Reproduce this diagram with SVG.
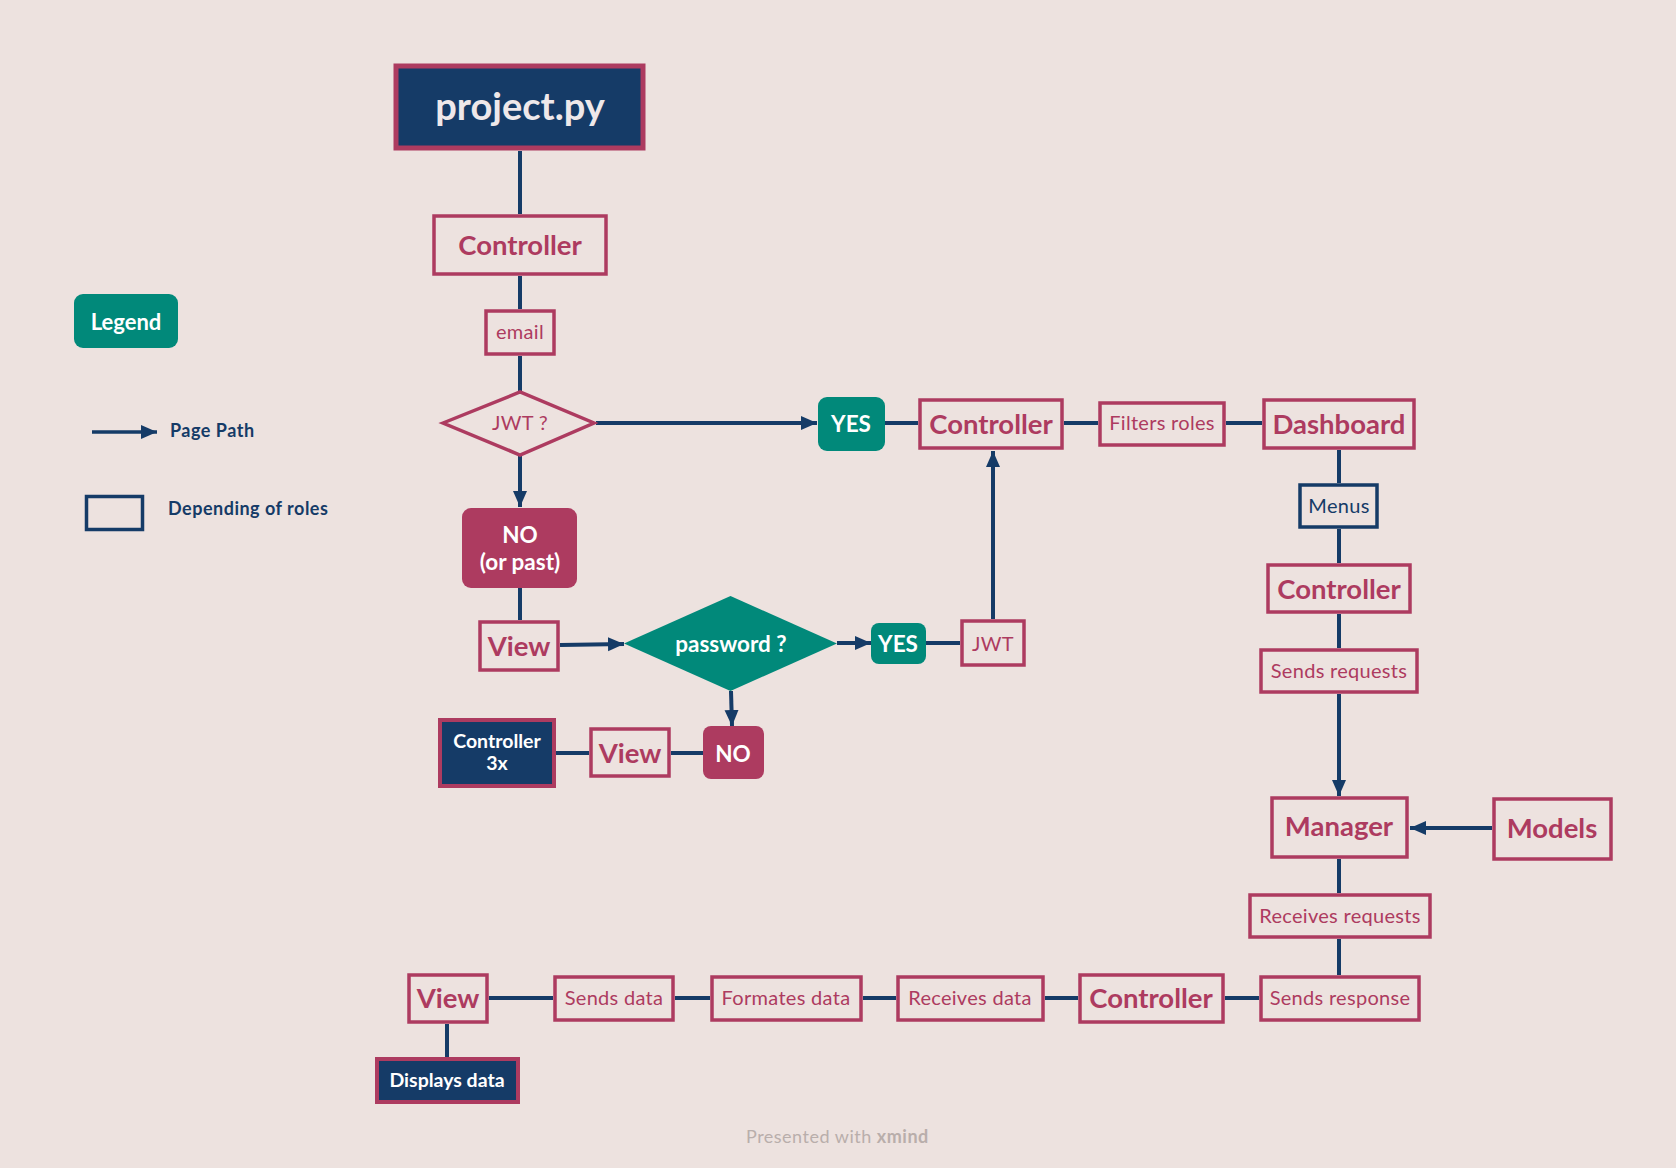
<svg xmlns="http://www.w3.org/2000/svg" width="1676" height="1168" viewBox="0 0 1676 1168">
<style>
.bx{fill:#EDE2DF;stroke:#AD3B60;stroke-width:3.5}
.nb{fill:#EDE2DF;stroke:#153B67;stroke-width:3.5}
.dk{fill:#153B67;stroke:#AD3B60;stroke-width:4}
.tl{fill:#01897A}
.pk{fill:#AD3B60}
.c{stroke:#153B67;stroke-width:4;fill:none}
.a{marker-end:url(#ah)}
text{font-family:Lato,"Liberation Sans",sans-serif;text-anchor:middle}
.tb{font-size:27.5px;font-weight:bold;fill:#AD3B60}
.ts{font-size:20px;letter-spacing:0.3px;fill:#AD3B60}
.tw{font-size:22.5px;font-weight:bold;fill:#fff}
.tn{font-size:18px;letter-spacing:0.5px;font-weight:bold;fill:#153B67;text-anchor:start}
</style>
<defs>
<marker id="ah" markerUnits="userSpaceOnUse" markerWidth="18" markerHeight="16" refX="16" refY="7" orient="auto"><path d="M0,0 L16,7 L0,14 z" fill="#153B67"/></marker>
</defs>
<rect width="1676" height="1168" fill="#EDE2DF"/>
<g id="connectors">
<path class="c" d="M520,151 V214"/>
<path class="c" d="M520,276 V309"/>
<path class="c" d="M520,356 V391"/>
<path class="c a" d="M596,423 H817"/>
<path class="c a" d="M520,456 V507"/>
<path class="c" d="M885,423 H918"/>
<path class="c" d="M1064,423 H1098"/>
<path class="c" d="M1226,423 H1262"/>
<path class="c" d="M1339,450 V483"/>
<path class="c" d="M1339,529 V563"/>
<path class="c" d="M1339,614 V648"/>
<path class="c a" d="M1339,694 V796"/>
<path class="c a" d="M1492,828 H1410"/>
<path class="c" d="M1339,859 V893"/>
<path class="c" d="M1339,939 V975"/>
<path class="c" d="M1259,998 H1225"/>
<path class="c" d="M1078,998 H1045"/>
<path class="c" d="M896,998 H863"/>
<path class="c" d="M710,998 H675"/>
<path class="c" d="M553,998 H489"/>
<path class="c" d="M447,1024 V1057"/>
<path class="c" d="M520,588 V620"/>
<path class="c a" d="M560,645 L624,644"/>
<path class="c a" d="M837,643 H871"/>
<path class="c" d="M926,643 H960"/>
<path class="c a" d="M993,619 V451"/>
<path class="c a" d="M731,691 L732,726"/>
<path class="c" d="M703,753 H671"/>
<path class="c" d="M589,753 H556"/>
</g>
<g id="legend">
<rect class="tl" x="74" y="294" width="104" height="54" rx="9"/>
<text class="tw" x="126" y="330" style="font-size:22px">Legend</text>
<path class="c a" d="M92,432 H157" style="stroke-width:3.5"/>
<text class="tn" x="170" y="437">Page Path</text>
<rect class="nb" x="86.5" y="496.5" width="56" height="33"/>
<text class="tn" x="168" y="515">Depending of roles</text>
</g>
<g id="project"><rect x="396" y="66" width="247" height="82" fill="#153B67" stroke="#AD3B60" stroke-width="5"/><text x="520" y="120" style="font-size:38px;font-weight:bold;fill:#EEE8EA">project.py</text></g>
<g id="controller1"><rect class="bx" x="434" y="216" width="172" height="58"/><text class="tb" x="520" y="255">Controller</text></g>
<g id="email"><rect class="bx" x="486" y="311" width="68" height="43"/><text class="ts" x="520" y="339">email</text></g>
<g id="jwt-q"><polygon class="bx" points="443,423 520,392 594,423 520,455"/><text class="ts" x="520" y="430">JWT ?</text></g>
<g id="yes1"><rect class="tl" x="818" y="397" width="67" height="54" rx="9"/><text class="tw" x="851" y="432">YES</text></g>
<g id="controller2"><rect class="bx" x="920" y="400" width="142" height="48"/><text class="tb" x="991" y="434">Controller</text></g>
<g id="filters"><rect class="bx" x="1100" y="403" width="124" height="42"/><text class="ts" x="1162" y="430">Filters roles</text></g>
<g id="dashboard"><rect class="bx" x="1264" y="400" width="150" height="48"/><text class="tb" x="1339" y="434">Dashboard</text></g>
<g id="menus"><rect class="nb" x="1300" y="485" width="77" height="42"/><text class="ts" x="1339" y="513" style="fill:#153B67">Menus</text></g>
<g id="controller3"><rect class="bx" x="1268" y="565" width="142" height="47"/><text class="tb" x="1339" y="599">Controller</text></g>
<g id="sends-requests"><rect class="bx" x="1261" y="650" width="156" height="42"/><text class="ts" x="1339" y="678">Sends requests</text></g>
<g id="manager"><rect class="bx" x="1272" y="798" width="135" height="59"/><text class="tb" x="1339" y="836">Manager</text></g>
<g id="models"><rect class="bx" x="1494" y="799" width="117" height="60"/><text class="tb" x="1552" y="838">Models</text></g>
<g id="receives-requests"><rect class="bx" x="1250" y="895" width="180" height="42"/><text class="ts" x="1340" y="923">Receives requests</text></g>
<g id="sends-response"><rect class="bx" x="1261" y="977" width="158" height="43"/><text class="ts" x="1340" y="1005">Sends response</text></g>
<g id="controller4"><rect class="bx" x="1080" y="975" width="143" height="47"/><text class="tb" x="1151" y="1008">Controller</text></g>
<g id="receives-data"><rect class="bx" x="898" y="977" width="145" height="43"/><text class="ts" x="970" y="1005">Receives data</text></g>
<g id="formates-data"><rect class="bx" x="712" y="977" width="149" height="43"/><text class="ts" x="786" y="1005">Formates data</text></g>
<g id="sends-data"><rect class="bx" x="555" y="977" width="118" height="43"/><text class="ts" x="614" y="1005">Sends data</text></g>
<g id="view3"><rect class="bx" x="409" y="975" width="78" height="47"/><text class="tb" x="448" y="1008">View</text></g>
<g id="displays-data"><rect class="dk" x="377" y="1059" width="141" height="43"/><text class="tw" x="447" y="1087" style="font-size:19.5px">Displays data</text></g>
<g id="no-past"><rect class="pk" x="462" y="508" width="115" height="80" rx="9"/><text class="tw" x="520" y="543">NO</text><text class="tw" x="520" y="570">(or past)</text></g>
<g id="view1"><rect class="bx" x="480" y="622" width="78" height="48"/><text class="tb" x="519" y="656">View</text></g>
<g id="password-q"><polygon class="tl" points="624,643.5 730.5,596 837,643.5 730.5,691"/><text class="tw" x="731" y="652">password ?</text></g>
<g id="yes2"><rect class="tl" x="871" y="623" width="55" height="41" rx="8"/><text class="tw" x="898" y="652">YES</text></g>
<g id="jwt"><rect class="bx" x="962" y="621" width="62" height="44"/><text class="ts" x="993" y="651">JWT</text></g>
<g id="no2"><rect class="pk" x="703" y="726" width="61" height="53" rx="8"/><text class="tw" x="733" y="762">NO</text></g>
<g id="view2"><rect class="bx" x="591" y="729" width="78" height="47"/><text class="tb" x="630" y="763">View</text></g>
<g id="controller-3x"><rect class="dk" x="440" y="720" width="114" height="66"/><text class="tw" x="497" y="748" style="font-size:19.5px">Controller</text><text class="tw" x="497" y="770" style="font-size:19.5px">3x</text></g>
<text x="746" y="1143" style="font-size:18px;letter-spacing:0.5px;fill:#B9AEAB;text-anchor:start">Presented with <tspan font-weight="bold">xmind</tspan></text>
</svg>
